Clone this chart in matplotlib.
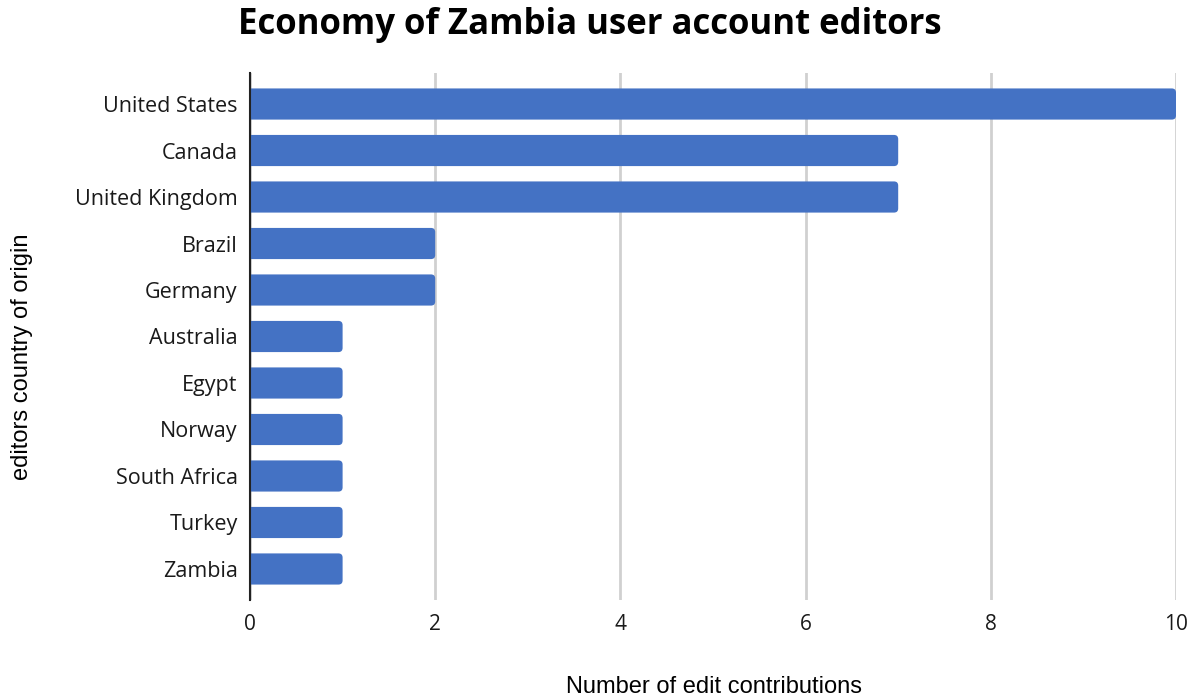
"""Horizontal bar chart of editor countries for the Economy of Zambia article."""
import matplotlib
matplotlib.use("Agg")
import matplotlib.pyplot as plt
from matplotlib.patches import FancyBboxPatch

countries = ["United States", "Canada", "United Kingdom", "Brazil", "Germany",
             "Australia", "Egypt", "Norway", "South Africa", "Turkey", "Zambia"]
edits = [10, 7, 7, 2, 2, 1, 1, 1, 1, 1, 1]
xticks = [0, 2, 4, 6, 8, 10]

BAR = "#4472C4"
GRID = "#D0D0D0"

fig = plt.figure(figsize=(12, 7), dpi=100)
ax = fig.add_axes([250 / 1200, 100 / 700, 926 / 1200, 527 / 700])

positions = list(range(len(countries)))
bars = ax.barh(positions, edits, height=0.67, color=BAR)
ax.set_xlim(0, 10)
ax.set_ylim(len(countries) - 1 + 0.667, -0.667)

# swap plain bars for rounded ones; the left end starts past the axis and
# gets clipped, so only the right-hand corners show as rounded
for b in bars:
    x, y, w, h = b.get_x(), b.get_y(), b.get_width(), b.get_height()
    b.set_visible(False)
    ax.add_patch(FancyBboxPatch((x - 0.2, y), w + 0.2, h,
                                boxstyle="round,pad=0,rounding_size=0.045",
                                mutation_aspect=2.0, facecolor=BAR,
                                edgecolor="none", zorder=3))

ax.set_yticks(positions)
ax.set_yticklabels(countries, fontfamily="Open Sans", fontsize=15.5)
ax.set_xticks(xticks)
ax.set_xticklabels([str(t) for t in xticks], fontfamily="Open Sans", fontsize=15)
ax.tick_params(axis="y", length=0, pad=9, colors="#1A1A1A")
ax.tick_params(axis="x", length=0, pad=10, colors="#1A1A1A")

ax.grid(axis="x", color=GRID, linewidth=2, zorder=0)
ax.set_axisbelow(True)
for s in ("top", "right", "bottom"):
    ax.spines[s].set_visible(False)
ax.spines["left"].set_color("#222222")
ax.spines["left"].set_linewidth(1.5)
ax.spines["left"].set_zorder(4)

fig.text(590 / 1200, 1 - 25 / 700, "Economy of Zambia user account editors",
         ha="center", va="center", fontfamily="Open Sans", fontweight="bold",
         fontsize=25, color="black")
fig.text(714 / 1200, 1 - 687 / 700, "Number of edit contributions",
         ha="center", va="center", fontfamily="Liberation Sans", fontsize=17)
fig.text(22 / 1200, 1 - 357 / 700, "editors country of origin", rotation=90,
         ha="center", va="center", fontfamily="Liberation Sans", fontsize=17)

fig.savefig("out.png", facecolor="white")
